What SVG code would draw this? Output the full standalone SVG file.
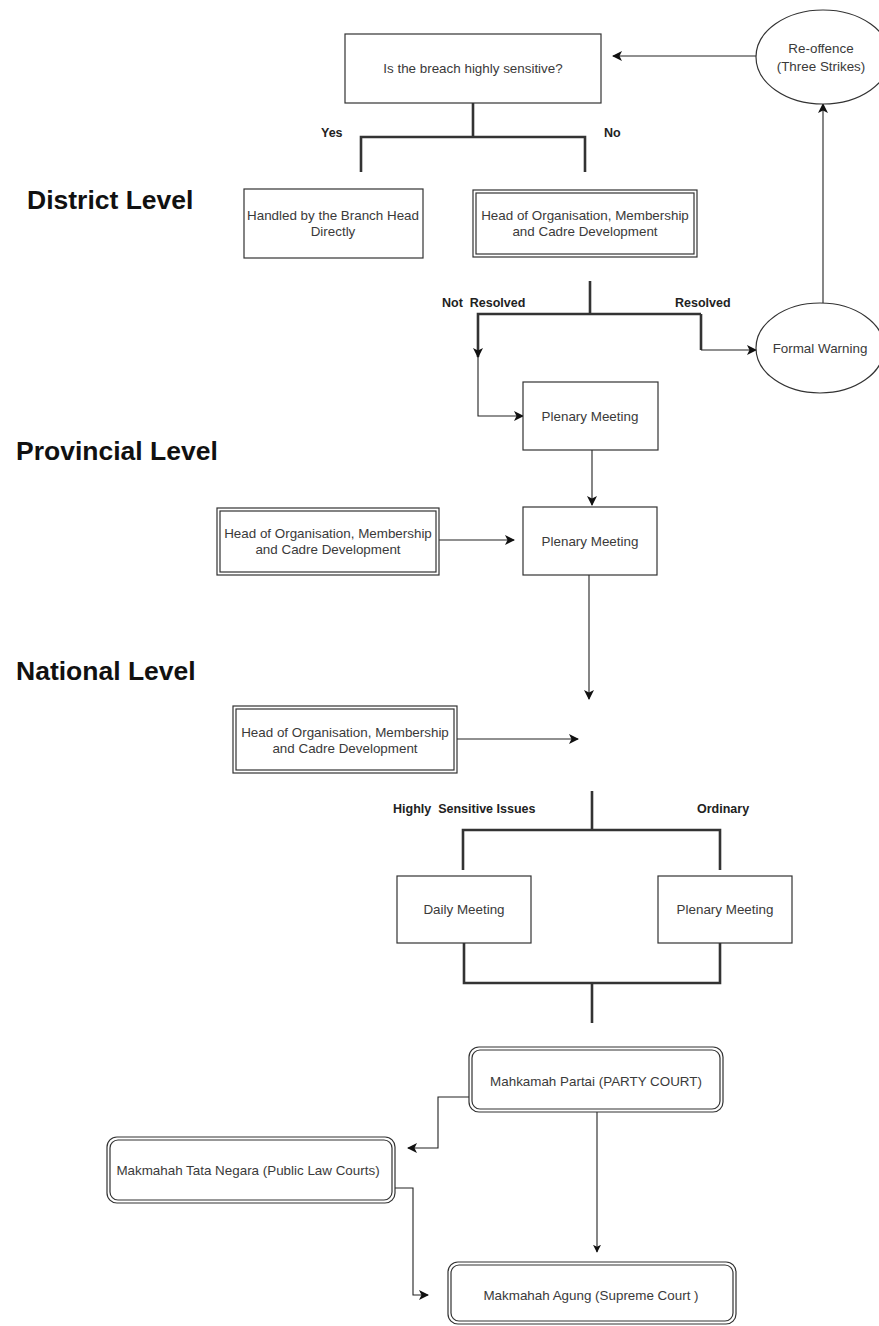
<svg xmlns="http://www.w3.org/2000/svg" width="879" height="1326" viewBox="0 0 879 1326">
<defs>
<marker id="arr" viewBox="0 0 10 10" refX="9" refY="5" markerWidth="10" markerHeight="10" markerUnits="userSpaceOnUse" orient="auto">
<path d="M0,0 L10,5 L0,10 L2.5,5 Z" fill="#111"/>
</marker>
<marker id="arrS" viewBox="0 0 10 10" refX="9" refY="5" markerWidth="8" markerHeight="8" markerUnits="userSpaceOnUse" orient="auto">
<path d="M0,0 L10,5 L0,10 L2.5,5 Z" fill="#111"/>
</marker>
<style>
.box{fill:#fff;stroke:#333;stroke-width:1.2}
.in{fill:none;stroke:#333;stroke-width:1.2}
.t{font-family:"Liberation Sans",Arial,sans-serif;font-size:13.4px;fill:#3a3a3a;text-anchor:middle}
.lb{font-family:"Liberation Sans",Arial,sans-serif;font-size:12.5px;font-weight:bold;fill:#222}
.lvl{font-family:"Liberation Sans",Arial,sans-serif;font-size:26.5px;font-weight:bold;fill:#111}
.thick{fill:none;stroke:#333;stroke-width:2.6}
.thin{fill:none;stroke:#222;stroke-width:1.1}
</style>
</defs>
<rect width="879" height="1326" fill="#fff"/>

<g id="levels">
<text class="lvl" x="27" y="209">District Level</text>
<text class="lvl" x="16" y="460">Provincial Level</text>
<text class="lvl" x="16" y="680">National Level</text>
</g>

<g id="labels">
<text class="lb" x="321" y="137">Yes</text>
<text class="lb" x="604" y="137">No</text>
<text class="lb" x="442" y="307" xml:space="preserve">Not  Resolved</text>
<text class="lb" x="675" y="307">Resolved</text>
<text class="lb" x="393" y="813" xml:space="preserve">Highly  Sensitive Issues</text>
<text class="lb" x="697" y="813">Ordinary</text>
</g>

<g id="connectors">
<path class="thin" d="M756,56 L613,56" marker-end="url(#arr)"/>
<path class="thin" d="M823,303 L823,104" marker-end="url(#arr)"/>
<path class="thick" d="M473,103 L473,137 M361,172 L361,137 L585,137 L585,172"/>
<path class="thick" d="M590,281 L590,314"/>
<path class="thick" d="M701,314 L478,314 L478,357" marker-end="url(#arr)"/>
<path class="thick" d="M701,314 L701,350"/>
<path class="thin" d="M701,350 L756,350" marker-end="url(#arr)"/>
<path class="thin" d="M478,357 L478,416 L523,416" marker-end="url(#arr)"/>
<path class="thin" d="M592,450 L592,505" marker-end="url(#arr)"/>
<path class="thin" d="M439,540 L514,540" marker-end="url(#arr)"/>
<path class="thin" d="M589,575 L589,699" marker-end="url(#arr)"/>
<path class="thin" d="M457,739 L578,739" marker-end="url(#arr)"/>
<path class="thick" d="M592,791 L592,830 M463,870 L463,830 L720,830 L720,870"/>
<path class="thick" d="M464,943 L464,983 L720,983 L720,943 M592,983 L592,1023"/>
<path class="thin" d="M469,1097 L438,1097 L438,1148 L408,1148" marker-end="url(#arr)"/>
<path class="thin" d="M597,1112 L597,1252" marker-end="url(#arrS)"/>
<path class="thin" d="M395,1188 L413,1188 L413,1295 L428,1295" marker-end="url(#arr)"/>
</g>

<g id="n-reoffence">
<ellipse class="box" cx="823" cy="57" rx="67" ry="47"/>
<text class="t" x="821" y="53">Re-offence</text>
<text class="t" x="821" y="71">(Three Strikes)</text>
</g>

<g id="n-question">
<rect class="box" x="345" y="34" width="256" height="69"/>
<text class="t" x="473" y="73">Is the breach highly sensitive?</text>
</g>

<g id="n-branchhead">
<rect class="box" x="244" y="189" width="179" height="69"/>
<text class="t" x="333" y="220">Handled by the Branch Head</text>
<text class="t" x="333" y="236">Directly</text>
</g>

<g id="n-district-head">
<rect class="box" x="473" y="190" width="224" height="67"/>
<rect class="in" x="476" y="193" width="218" height="61"/>
<text class="t" x="585" y="220">Head of Organisation, Membership</text>
<text class="t" x="585" y="236">and Cadre Development</text>
</g>

<g id="n-warning">
<ellipse class="box" cx="820" cy="348" rx="64" ry="45"/>
<text class="t" x="820" y="353">Formal Warning</text>
</g>

<g id="n-plenary-district">
<rect class="box" x="523" y="382" width="135" height="68"/>
<text class="t" x="590" y="421">Plenary Meeting</text>
</g>

<g id="n-prov-head">
<rect class="box" x="217" y="508" width="222" height="67"/>
<rect class="in" x="220" y="511" width="216" height="61"/>
<text class="t" x="328" y="538">Head of Organisation, Membership</text>
<text class="t" x="328" y="554">and Cadre Development</text>
</g>

<g id="n-plenary-prov">
<rect class="box" x="523" y="507" width="134" height="68"/>
<text class="t" x="590" y="546">Plenary Meeting</text>
</g>

<g id="n-nat-head">
<rect class="box" x="233" y="706" width="224" height="67"/>
<rect class="in" x="236" y="709" width="218" height="61"/>
<text class="t" x="345" y="737">Head of Organisation, Membership</text>
<text class="t" x="345" y="753">and Cadre Development</text>
</g>

<g id="n-daily">
<rect class="box" x="397" y="876" width="134" height="67"/>
<text class="t" x="464" y="914">Daily Meeting</text>
</g>

<g id="n-plenary-nat">
<rect class="box" x="658" y="876" width="134" height="67"/>
<text class="t" x="725" y="914">Plenary Meeting</text>
</g>

<g id="n-party-court">
<rect class="box" x="469" y="1047" width="254" height="65" rx="10"/>
<rect class="in" x="472" y="1050" width="248" height="59" rx="8"/>
<text class="t" x="596" y="1086">Mahkamah Partai (PARTY COURT)</text>
</g>

<g id="n-public-law">
<rect class="box" x="107" y="1137" width="288" height="66" rx="10"/>
<rect class="in" x="110" y="1140" width="282" height="60" rx="8"/>
<text class="t" x="248" y="1175">Makmahah Tata Negara (Public Law Courts)</text>
</g>

<g id="n-supreme">
<rect class="box" x="448" y="1262" width="288" height="62" rx="10"/>
<rect class="in" x="451" y="1265" width="282" height="56" rx="8"/>
<text class="t" x="591" y="1300">Makmahah Agung (Supreme Court )</text>
</g>
</svg>
